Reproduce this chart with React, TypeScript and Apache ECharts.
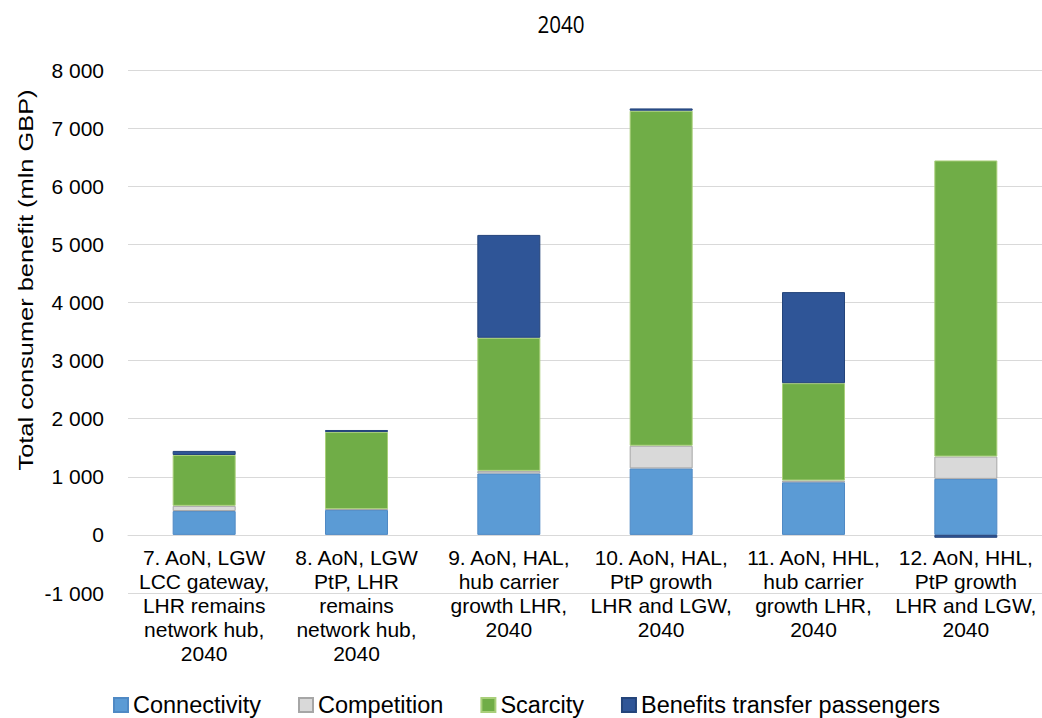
import React, { useEffect, useRef } from "react";
import * as echarts from "echarts";

const categories = [
  "7. AoN, LGW\nLCC gateway,\nLHR remains\nnetwork hub,\n2040",
  "8. AoN, LGW\nPtP, LHR\nremains\nnetwork hub,\n2040",
  "9. AoN, HAL,\nhub carrier\ngrowth LHR,\n2040",
  "10. AoN, HAL,\nPtP growth\nLHR and LGW,\n2040",
  "11. AoN, HHL,\nhub carrier\ngrowth LHR,\n2040",
  "12. AoN, HHL,\nPtP growth\nLHR and LGW,\n2040",
];
const connectivity = [410, 430, 1057, 1144, 906, 964];
const competition = [90, 15, 45, 390, 30, 384];
const scarcity = [875, 1325, 2290, 5765, 1675, 5095];
const transfer = [70, 35, 1770, 40, 1567, -50];
const yTicks = { min: -1000, max: 8000, interval: 1000 };

const seriesDefs = [
  { name: "Connectivity", data: connectivity, color: "#5B9BD5", border: "#4F89C4" },
  { name: "Competition", data: competition, color: "#D9D9D9", border: "#A6A6A6" },
  { name: "Scarcity", data: scarcity, color: "#70AD47", border: "#A9CF7A" },
  { name: "Benefits transfer passengers", data: transfer, color: "#2F5597", border: "#24447A" },
];

export default function App() {
  const ref = useRef<HTMLDivElement>(null);
  useEffect(() => {
    const chart = echarts.init(ref.current!, null, { renderer: "svg" });
    const font = "'Liberation Sans', Arial, sans-serif";
    chart.setOption({
      animation: false,
      backgroundColor: "#ffffff",
      legend: {
        top: 693,
        left: 113,
        padding: 0,
        itemWidth: 14,
        itemHeight: 14,
        itemGap: 37,
        icon: "rect",
        textStyle: { fontFamily: font, fontSize: 23.5, color: "#000" },
        data: seriesDefs.map((s) => s.name),
      },
      graphic: [
        {
          type: "text",
          x: 561,
          y: 24,
          scaleX: 0.86,
          style: {
            text: "2040",
            font: `24px 'Open Sans', ${font}`,
            fill: "#000",
            textAlign: "center",
            textVerticalAlign: "middle",
          },
        },
        {
          type: "text",
          x: 26,
          y: 280,
          rotation: Math.PI / 2,
          scaleX: 1.21,
          style: {
            text: "Total consumer benefit (mln GBP)",
            font: `21px ${font}`,
            fill: "#000",
            textAlign: "center",
            textVerticalAlign: "middle",
          },
        },
      ],
      grid: { left: 128, right: 0, top: 70, bottom: 125, containLabel: false },
      xAxis: {
        type: "category",
        data: categories,
        axisLine: { onZero: true, lineStyle: { color: "#D9D9D9", width: 1 } },
        axisTick: { show: false },
        axisLabel: {
          fontFamily: font,
          fontSize: 21,
          color: "#000",
          lineHeight: 24,
          margin: -48,
          interval: 0,
        },
      },
      yAxis: {
        type: "value",
        min: yTicks.min,
        max: yTicks.max,
        interval: yTicks.interval,
        axisLine: { show: false },
        axisTick: { show: false },
        splitLine: { lineStyle: { color: "#D9D9D9", width: 1 } },
        axisLabel: {
          fontFamily: font,
          fontSize: 21,
          color: "#000",
          margin: 24,
          formatter: (v: number) => {
            const s = Math.abs(v).toString().replace(/\B(?=(\d{3})+(?!\d))/g, " ");
            return (v < 0 ? "-" : "") + s;
          },
        },
      },
      series: seriesDefs.map((s) => ({
        name: s.name,
        type: "bar",
        stack: "total",
        barWidth: 63,
        data: s.data,
        itemStyle: { color: s.color, borderColor: s.border, borderWidth: 1 },
      })),
    });
    return () => chart.dispose();
  }, []);
  return (
    <div
      ref={ref}
      style={{ position: "fixed", left: 0, top: 0, width: 1042, height: 718 }}
    />
  );
}
